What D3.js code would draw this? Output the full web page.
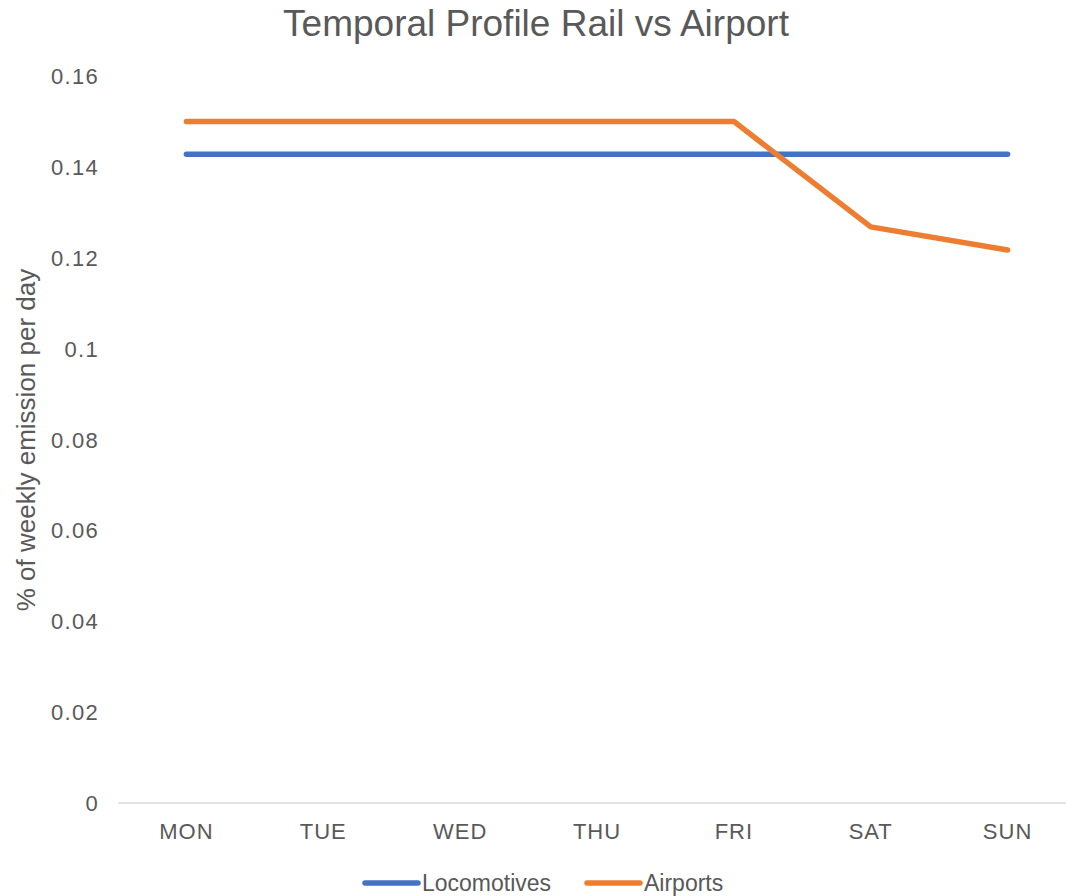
<script src="https://d3js.org/d3.v7.min.js"></script>
<style>
  body { margin: 0; background: #fff; }
  text { font-family: "Liberation Sans", Arial, sans-serif; fill: #595959; }
</style>
<body>
<script>
  // data
  const days = ["MON", "TUE", "WED", "THU", "FRI", "SAT", "SUN"];
  const locomotives = [0.1428, 0.1428, 0.1428, 0.1428, 0.1428, 0.1428, 0.1428];
  const airports = [0.15, 0.15, 0.15, 0.15, 0.15, 0.1268, 0.1217];
  const yTicks = [0, 0.02, 0.04, 0.06, 0.08, 0.1, 0.12, 0.14, 0.16];

  const svg = d3.select("body")
    .append("svg")
    .attr("width", 1066)
    .attr("height", 896);

  const x = d3.scaleBand()
    .domain(days)
    .range([118, 1076]);

  const y = d3.scaleLinear()
    .domain([0, 0.16])
    .range([803, 76]);

  // title
  svg.append("text")
    .attr("x", 536)
    .attr("y", 36)
    .attr("text-anchor", "middle")
    .style("font-size", "37px")
    .text("Temporal Profile Rail vs Airport");

  // y tick labels
  svg.selectAll(".ytick")
    .data(yTicks)
    .join("text")
    .attr("class", "ytick")
    .attr("x", 99)
    .attr("y", d => y(d) + 8)
    .attr("text-anchor", "end")
    .style("font-size", "22px")
    .style("letter-spacing", "1.3px")
    .text(d => d);

  // y axis title
  svg.append("text")
    .attr("transform", "translate(35, 440) rotate(-90)")
    .attr("text-anchor", "middle")
    .style("font-size", "26px")
    .text("% of weekly emission per day");

  // x axis line
  svg.append("line")
    .attr("x1", 118)
    .attr("x2", 1076)
    .attr("y1", y(0))
    .attr("y2", y(0))
    .attr("stroke", "#d9d9d9")
    .attr("stroke-width", 1.5);

  svg.selectAll(".xtick")
    .data(days)
    .join("text")
    .attr("class", "xtick")
    .attr("x", d => x(d) + x.bandwidth() / 2)
    .attr("y", 839)
    .attr("text-anchor", "middle")
    .style("font-size", "22px")
    .style("letter-spacing", "1px")
    .text(d => d);

  // lines
  const line = d3.line()
    .x((d, i) => x(days[i]) + x.bandwidth() / 2)
    .y(d => y(d));

  const series = [
    { name: "Locomotives", values: locomotives, color: "#4472c4" },
    { name: "Airports", values: airports, color: "#ed7d31" }
  ];

  series.forEach(s => {
    svg.append("path")
      .attr("d", line(s.values))
      .attr("fill", "none")
      .attr("stroke", s.color)
      .attr("stroke-width", 5.5)
      .attr("stroke-linecap", "round")
      .attr("stroke-linejoin", "round");
  });

  // legend
  const legendX = [365, 587];
  series.forEach((s, i) => {
    svg.append("line")
      .attr("x1", legendX[i])
      .attr("x2", legendX[i] + 53)
      .attr("y1", 883)
      .attr("y2", 883)
      .attr("stroke", s.color)
      .attr("stroke-width", 5.5)
      .attr("stroke-linecap", "round");
    svg.append("text")
      .attr("x", legendX[i] + 57)
      .attr("y", 891)
      .style("font-size", "23px")
      .text(s.name);
  });
</script>
</body>
